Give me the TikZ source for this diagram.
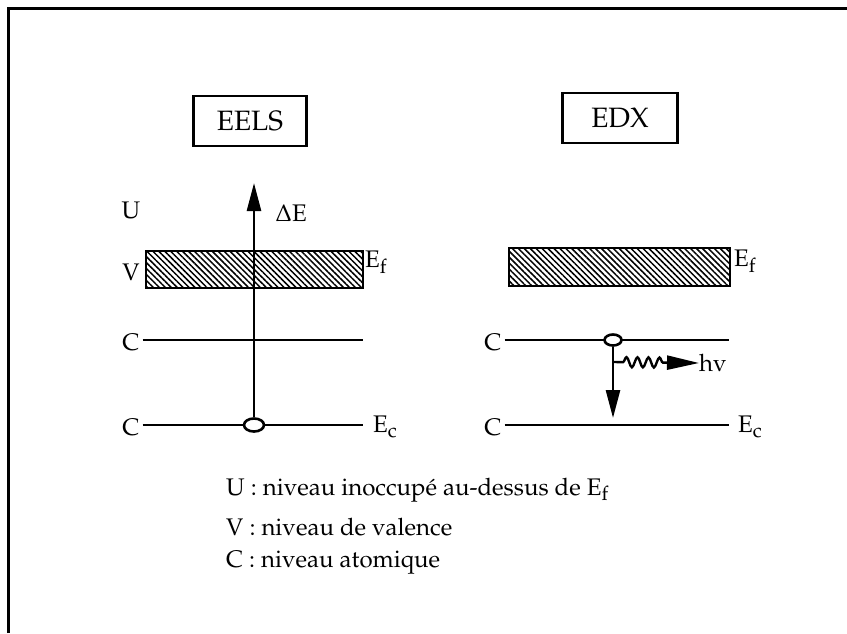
\documentclass[tikz,border=0pt]{standalone}
\usepackage[T1]{fontenc}
\usepackage{mathpazo}
\usetikzlibrary{arrows.meta,positioning,shapes.geometric,patterns.meta,decorations.pathmorphing}

\newcommand{\lsub}[1]{\raisebox{-0.5ex}{\fontsize{20}{22}\selectfont #1}}

\begin{document}
\begin{tikzpicture}[
  x=1pt, y=-1pt,
  font=\fontsize{24}{28}\selectfont,
  title/.style={draw, line width=2.2pt, minimum width=113pt, minimum height=50pt, font=\fontsize{28}{30}\selectfont},
  level/.style={line width=2.8pt},
  band/.style={draw, line width=2.6pt, pattern={Lines[angle=-45,distance=4.2pt,line width=1.5pt]}},
  lbl/.style={inner sep=0pt},
  hole/.style={draw, fill=white, ellipse, line width=2.6pt, minimum width=20pt, minimum height=13pt, inner sep=0pt},
  arrow/.style={line width=2.6pt, -{Triangle[length=28pt,width=14pt]}}
]
  \useasboundingbox (0,0) rectangle (847,633);
  \draw[line width=3pt] (8,633) -- (8,8) -- (847,8);

  % EELS
  \node[title] (eels) at (250,121) {EELS};
  \node[lbl] (u) at (131,210) {U};
  \node[lbl] (v) at (131,272) {V};
  \draw[band] (146,251) rectangle (363,288);
  \node[lbl, anchor=west] (ef1) at (365,262) {E\lsub{f}};
  \node[lbl] (c1) at (131,342) {C};
  \coordinate (c1r) at (363,340);
  \draw[level] (c1.east |- c1r) ++(3,0) -- (c1r);
  \node[lbl] (c2) at (131,427) {C};
  \node[lbl, anchor=west] (ec1) at (373,427) {E\lsub{c}};
  \draw[level] (c2.east |- 0,425) ++(3,0) -- (363,425);
  \node[hole] (h1) at (254,425) {};
  \coordinate (top) at (254,183);
  \draw[arrow] (h1) -- (top);
  \node[lbl] (de) at (291,213) {$\Delta$E};

  % EDX
  \node[title, minimum width=115pt] (edx) at (620,118) {EDX};
  \draw[band] (509,248) rectangle (730,286);
  \node[lbl, anchor=west] (ef2) at (734,261) {E\lsub{f}};
  \node[lbl] (c3) at (493,342) {C};
  \draw[level] (c3.east |- 0,340) ++(3,0) -- (729,340);
  \node[lbl] (c4) at (493,427) {C};
  \node[lbl, anchor=west] (ec2) at (738,427) {E\lsub{c}};
  \draw[level] (c4.east |- 0,425) ++(3,0) -- (729,425);
  \node[hole, minimum width=17pt, minimum height=11pt] (h2) at (613,340) {};
  \coordinate (low) at (613,418);
  \draw[arrow] (h2) -- (low);
  \coordinate (emit) at (613,362);
  \node[lbl, anchor=west] (hv) at (699,363) {hv};
  \draw[line width=2.4pt, decorate,
        decoration={snake, amplitude=5pt, segment length=11pt, pre length=10pt, post length=36pt},
        -{Triangle[length=32pt,width=14pt]}] (emit) -- (hv.west);

  % legende
  \node[lbl, anchor=west] (legu) at (226,490) {U : niveau inoccup\'e au-dessus de E\lsub{f}};
  \node[lbl, anchor=west] (legv) at (226,527) {V : niveau de valence};
  \node[lbl, anchor=west] (legc) at (226,563) {C : niveau atomique};
\end{tikzpicture}
\end{document}
